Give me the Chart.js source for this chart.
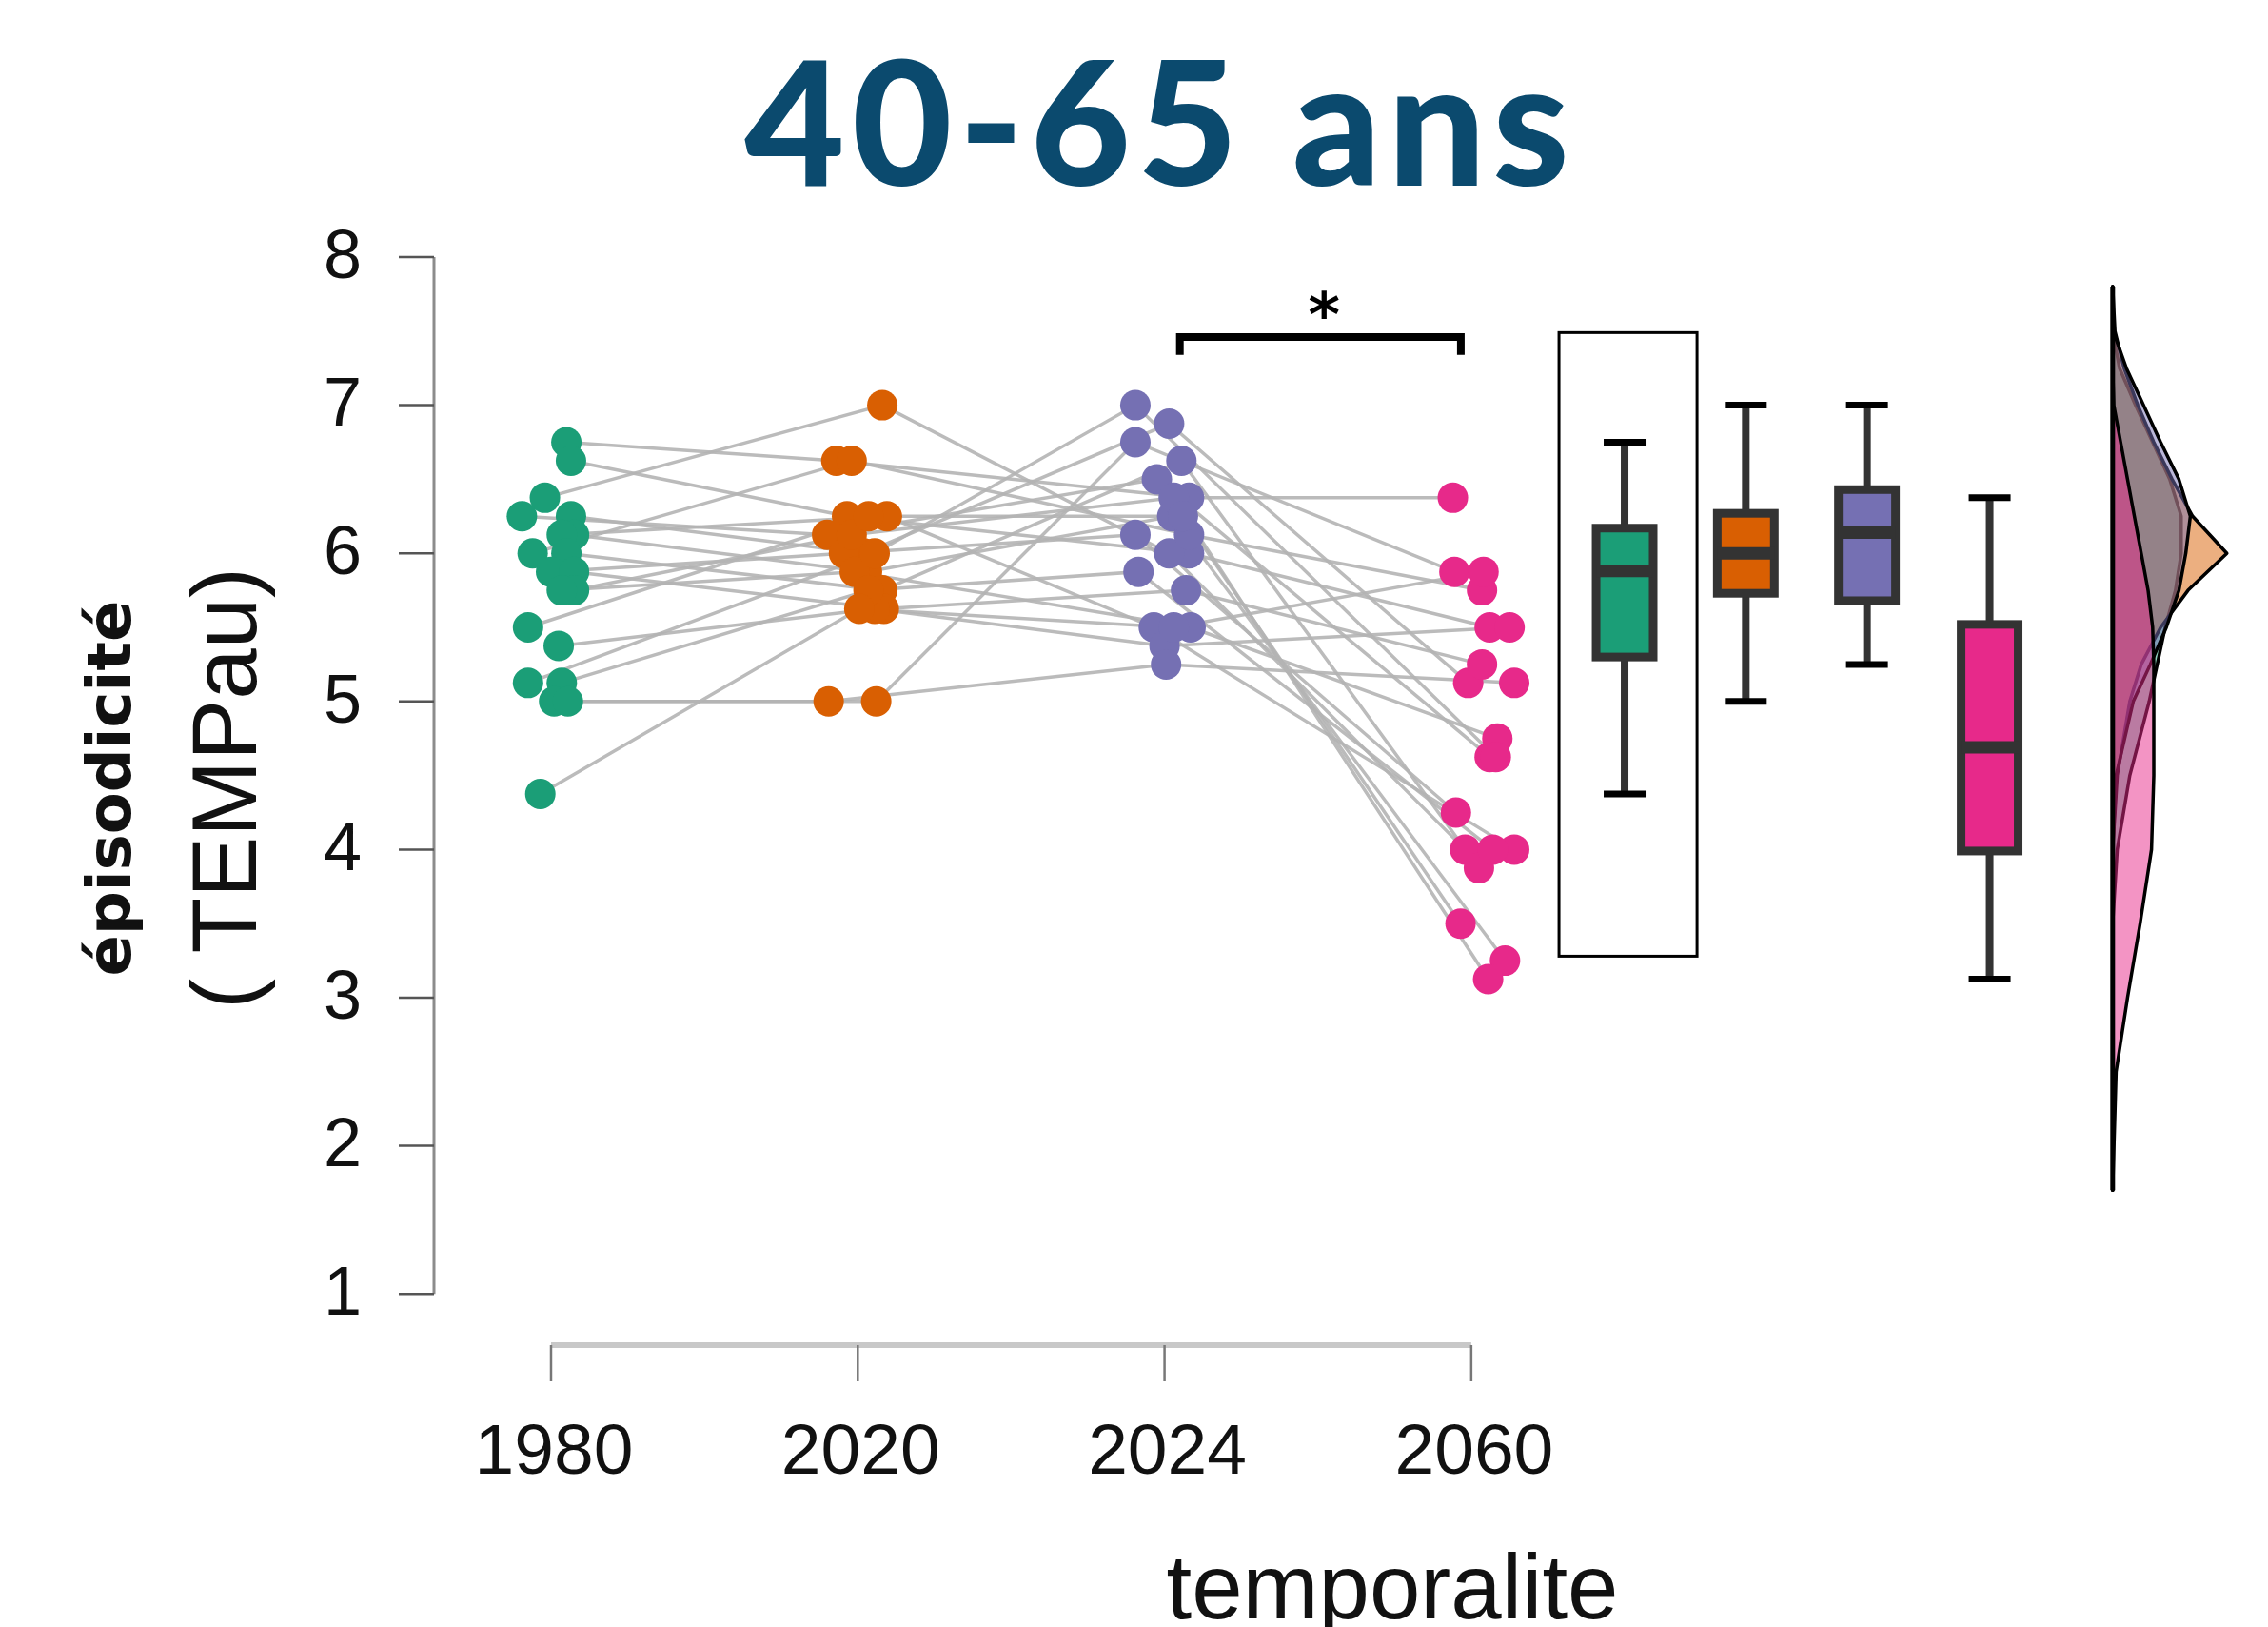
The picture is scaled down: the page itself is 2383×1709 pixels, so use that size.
<!DOCTYPE html>
<html>
<head>
<meta charset="utf-8">
<script src="https://cdn.jsdelivr.net/npm/chart.js@4.4.1/dist/chart.umd.min.js"></script>
<style>
  html, body { margin: 0; padding: 0; background: #fff; }
  canvas { display: block; }
</style>
</head>
<body>
<canvas id="myChart" width="2383" height="1709" style="width:2383px;height:1709px"></canvas>
<script>
    // categories and tick labels
    const categories = ['1980', '2020', '2024', '2060'];
    const yTicks = [1, 2, 3, 4, 5, 6, 7, 8];
    const colors = ['#1b9e77', '#d95f02', '#7570b3', '#e7298a'];

    // one entry per participant, same order in every array
    const val1980 = [6.75, 6.625, 6.375, 6.25, 6.25, 6.125, 6.125, 6.0, 6.0, 5.875, 5.875, 5.75, 5.75, 5.5, 5.375, 5.125, 5.125, 5.0, 5.0, 4.375];
    const val2020 = [6.625, 6.25, 7.0, 6.125, 6.0, 5.875, 6.25, 6.625, 5.75, 6.0, 5.625, 6.125, 5.875, 6.25, 5.625, 6.0, 5.75, 5.0, 5.0, 5.625];
    const val2024 = [6.375, 6.0, 6.0, 6.5, 6.875, 6.25, 5.5, 6.125, 6.625, 6.125, 5.75, 6.375, 5.5, 6.25, 5.375, 7.0, 5.875, 5.25, 6.75, 5.5];
    const val2060 = [6.375, 5.5, 4.0, 4.625, 5.125, 3.25, 4.0, 5.75, 3.875, 4.25, 5.25, 3.125, 4.75, 3.5, 5.5, 4.625, 4.0, 5.125, 5.875, 5.875];

    // horizontal jitter of each point (x units)
    const jit1980 = [0.05, 0.065, -0.02, -0.095, 0.065, 0.075, 0.035, -0.06, 0.05, 0.0, 0.075, 0.075, 0.035, -0.075, 0.025, -0.075, 0.035, 0.01, 0.055, -0.035];
    const jit2020 = [-0.07, -0.035, 0.08, -0.10, 0.02, 0.03, 0.095, -0.02, 0.08, -0.045, 0.085, -0.02, -0.01, 0.035, 0.055, 0.055, 0.035, -0.095, 0.06, 0.005];
    const jit2024 = [0.08, 0.08, 0.015, -0.025, 0.015, 0.025, -0.035, 0.08, 0.055, -0.095, 0.07, 0.03, 0.085, 0.06, 0.0, -0.095, -0.085, 0.005, -0.095, 0.03];
    const jit2060 = [-0.06, 0.06, -0.02, 0.06, -0.01, 0.11, 0.14, 0.035, 0.025, -0.05, 0.035, 0.055, 0.085, -0.035, 0.125, 0.08, 0.07, 0.14, -0.055, 0.04];

    // boxplot summaries (1980, 2020, 2024, 2060)
    const boxMin = [4.375, 5.0, 5.25, 3.125];
    const boxQ1 = [5.30, 5.73, 5.68, 3.99];
    const boxMed = [5.88, 6.0, 6.14, 4.69];
    const boxQ3 = [6.17, 6.27, 6.43, 5.52];
    const boxMax = [6.75, 7.0, 7.0, 6.375];

    // half-violin densities, on a common value grid
    const densY = [1.7, 2.5, 3.0, 3.5, 4.0, 4.5, 5.0, 5.25, 5.5, 5.75, 6.0, 6.25, 6.5, 6.75, 7.0, 7.25, 7.5, 7.8];
    const dens1980 = [0, 0, 0, 0, 0.04, 0.15, 0.32, 0.39, 0.46, 0.55, 0.60, 0.60, 0.50, 0.35, 0.20, 0.06, 0, 0];
    const dens2020 = [0, 0, 0, 0, 0, 0.04, 0.15, 0.25, 0.42, 0.66, 1.0, 0.70, 0.52, 0.36, 0.22, 0.10, 0.02, 0];
    const dens2024 = [0, 0, 0, 0, 0, 0.03, 0.18, 0.33, 0.47, 0.58, 0.64, 0.68, 0.58, 0.42, 0.27, 0.12, 0.005, 0];
    const dens2060 = [0, 0.03, 0.13, 0.24, 0.34, 0.36, 0.36, 0.36, 0.35, 0.31, 0.25, 0.19, 0.13, 0.07, 0.01, 0, 0, 0];

    const timeVals = [val1980, val2020, val2024, val2060];
    const timeJit = [jit1980, jit2020, jit2024, jit2060];
    const densVals = [dens1980, dens2020, dens2024, dens2060];

    function rgba(hex, a) {
        const n = parseInt(hex.slice(1), 16);
        return 'rgba(' + (n >> 16) + ',' + ((n >> 8) & 255) + ',' + (n & 255) + ',' + a + ')';
    }

    // points, one dataset per time point
    const pointSets = categories.map((c, k) => ({
        label: c,
        data: timeVals[k].map((v, i) => ({ x: k + 1 + timeJit[k][i], y: v })),
        backgroundColor: colors[k],
        borderWidth: 0,
        pointRadius: 16,
        order: 0,
    }));

    // grey lines joining each participant
    const lineSets = val1980.map((_, i) => ({
        label: 'p' + i,
        data: timeVals.map((arr, k) => ({ x: k + 1 + timeJit[k][i], y: arr[i] })),
        showLine: true,
        borderColor: 'rgba(180,180,180,0.9)',
        borderWidth: 3.5,
        pointRadius: 0,
        order: 1,
    }));

    const boxX = [4.5, 4.895, 5.29, 5.69];
    const boxHalf = 0.093;
    const densBase = 6.091;
    const densScale = 0.3723;

    const extras = {
        id: 'extras',
        afterDatasetsDraw(chart) {
            const { ctx, scales: { x, y } } = chart;
            ctx.save();

            // boxplots
            for (let g = 0; g < 4; g++) {
                const cx = x.getPixelForValue(boxX[g]);
                const l = x.getPixelForValue(boxX[g] - boxHalf);
                const r = x.getPixelForValue(boxX[g] + boxHalf);
                const yMin = y.getPixelForValue(boxMin[g]);
                const yMax = y.getPixelForValue(boxMax[g]);
                const y1 = y.getPixelForValue(boxQ1[g]);
                const y3 = y.getPixelForValue(boxQ3[g]);
                const ym = y.getPixelForValue(boxMed[g]);
                ctx.strokeStyle = '#333';
                ctx.lineWidth = 8;
                ctx.beginPath();
                ctx.moveTo(cx, yMax); ctx.lineTo(cx, y3);
                ctx.moveTo(cx, y1); ctx.lineTo(cx, yMin);
                ctx.stroke();
                ctx.strokeStyle = '#000';
                ctx.lineWidth = 7;
                ctx.beginPath();
                ctx.moveTo(cx - 22, yMax); ctx.lineTo(cx + 22, yMax);
                ctx.moveTo(cx - 22, yMin); ctx.lineTo(cx + 22, yMin);
                ctx.stroke();
                ctx.fillStyle = colors[g];
                ctx.fillRect(l, y3, r - l, y1 - y3);
                ctx.strokeStyle = '#333';
                ctx.lineWidth = 9;
                ctx.strokeRect(l, y3, r - l, y1 - y3);
                ctx.lineWidth = 13;
                ctx.beginPath();
                ctx.moveTo(l, ym); ctx.lineTo(r, ym);
                ctx.stroke();
            }

            // frame around the first box
            ctx.strokeStyle = '#000';
            ctx.lineWidth = 3;
            const fl = x.getPixelForValue(4.286), fr = x.getPixelForValue(4.736);
            const ft = y.getPixelForValue(7.49), fb = y.getPixelForValue(3.28);
            ctx.strokeRect(fl, ft, fr - fl, fb - ft);

            // half violins
            const bx = x.getPixelForValue(densBase);
            for (let g = 0; g < 4; g++) {
                ctx.beginPath();
                ctx.moveTo(bx, y.getPixelForValue(densY[0]));
                densY.forEach((v, i) => {
                    ctx.lineTo(x.getPixelForValue(densBase + densVals[g][i] * densScale), y.getPixelForValue(v));
                });
                ctx.lineTo(bx, y.getPixelForValue(densY[densY.length - 1]));
                ctx.closePath();
                ctx.fillStyle = rgba(colors[g], 0.5);
                ctx.fill();
                ctx.strokeStyle = '#000';
                ctx.lineWidth = 3.5;
                ctx.lineJoin = 'round';
                ctx.stroke();
            }
            ctx.lineWidth = 5;
            ctx.beginPath();
            ctx.moveTo(bx, y.getPixelForValue(densY[0]));
            ctx.lineTo(bx, y.getPixelForValue(densY[densY.length - 1]));
            ctx.stroke();

            // significance bracket 2024 vs 2060
            ctx.lineWidth = 8;
            ctx.lineJoin = 'miter';
            ctx.beginPath();
            ctx.moveTo(x.getPixelForValue(3.05), y.getPixelForValue(7.34));
            ctx.lineTo(x.getPixelForValue(3.05), y.getPixelForValue(7.46));
            ctx.lineTo(x.getPixelForValue(3.966), y.getPixelForValue(7.46));
            ctx.lineTo(x.getPixelForValue(3.966), y.getPixelForValue(7.34));
            ctx.stroke();
            ctx.fillStyle = '#000';
            ctx.font = 'bold 64px "DejaVu Sans"';
            ctx.textAlign = 'center';
            ctx.textBaseline = 'alphabetic';
            ctx.fillText('*', x.getPixelForValue(3.52), y.getPixelForValue(7.68) + 33);

            ctx.restore();
        },
        afterDraw(chart) {
            const { ctx, chartArea, scales: { x, y } } = chart;
            ctx.save();

            // y axis, R style
            const x0 = chartArea.left;
            ctx.strokeStyle = '#8c8c8c';
            ctx.lineWidth = 3;
            ctx.beginPath();
            ctx.moveTo(x0, y.getPixelForValue(1));
            ctx.lineTo(x0, y.getPixelForValue(8));
            ctx.stroke();
            ctx.strokeStyle = '#555';
            ctx.lineWidth = 2.5;
            ctx.fillStyle = '#111';
            ctx.font = '72px "Liberation Sans"';
            ctx.textAlign = 'right';
            ctx.textBaseline = 'middle';
            yTicks.forEach(t => {
                const py = y.getPixelForValue(t);
                ctx.beginPath();
                ctx.moveTo(x0 - 37, py);
                ctx.lineTo(x0, py);
                ctx.stroke();
                ctx.fillText(String(t), x0 - 76, py + 2);
            });

            // x axis
            const y0 = chartArea.bottom;
            ctx.strokeStyle = '#c8c8c8';
            ctx.lineWidth = 6;
            ctx.beginPath();
            ctx.moveTo(x.getPixelForValue(1), y0);
            ctx.lineTo(x.getPixelForValue(4), y0);
            ctx.stroke();
            ctx.strokeStyle = '#777';
            ctx.lineWidth = 2.5;
            ctx.textAlign = 'center';
            ctx.textBaseline = 'alphabetic';
            ctx.font = '75px "Liberation Sans"';
            categories.forEach((c, k) => {
                const px = x.getPixelForValue(k + 1);
                ctx.beginPath();
                ctx.moveTo(px, y0);
                ctx.lineTo(px, y0 + 38);
                ctx.stroke();
                ctx.fillText(c, px + 3, 1548);
            });

            // axis titles
            ctx.font = '96px "Liberation Sans"';
            ctx.fillText('temporalite', 1463, 1700);

            ctx.save();
            ctx.translate(120, 828);
            ctx.rotate(-Math.PI / 2);
            ctx.font = 'bold 64px "DejaVu Sans"';
            ctx.textBaseline = 'middle';
            ctx.fillText('épisodicité', 0, 0);
            ctx.restore();

            ctx.save();
            ctx.translate(243, 828);
            ctx.rotate(-Math.PI / 2);
            ctx.font = '96px "Liberation Sans"';
            ctx.textBaseline = 'middle';
            ctx.fillText('( TEMPau)', 0, 0);
            ctx.restore();

            // title
            ctx.fillStyle = '#0b4a6e';
            ctx.font = '900 182px Lato';
            ctx.letterSpacing = '7px';
            ctx.textAlign = 'center';
            ctx.fillText('40-65 ans', 1219, 195);

            ctx.restore();
        },
    };

    const ctx = document.getElementById('myChart').getContext('2d');
    const chart = new Chart(ctx, {
        type: 'scatter',
        data: { datasets: pointSets.concat(lineSets) },
        options: {
            responsive: false,
            animation: false,
            devicePixelRatio: 1,
            layout: { padding: { left: 456, right: 23, top: 270, bottom: 296 } },
            plugins: { legend: { display: false }, tooltip: { enabled: false } },
            scales: {
                x: { type: 'linear', min: 0.6184, max: 6.526, display: false },
                y: { type: 'linear', min: 0.654, max: 8, display: false },
            },
        },
        plugins: [extras],
    });
</script>
</body>
</html>
